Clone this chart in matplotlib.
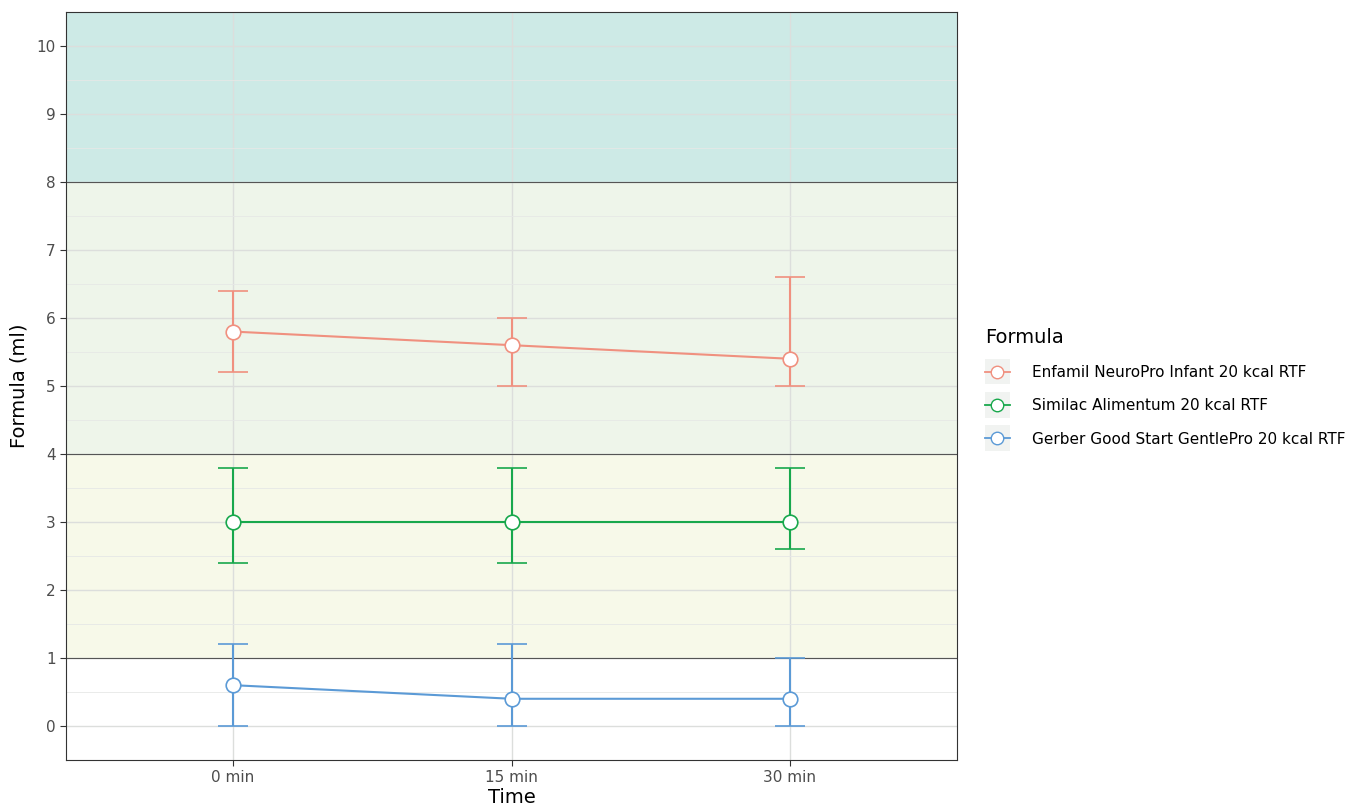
from matplotlib import pyplot as plt
from matplotlib.lines import Line2D
from matplotlib.legend_handler import HandlerLine2D
from matplotlib.patches import Rectangle
import numpy as np

## Data

times = ['0 min', '15 min', '30 min']
formulas = ['Enfamil NeuroPro Infant 20 kcal RTF',
            'Similac Alimentum 20 kcal RTF',
            'Gerber Good Start GentlePro 20 kcal RTF']
enfamil_mid = [5.8, 5.6, 5.4]
enfamil_low = [5.2, 5.0, 5.0]
enfamil_high = [6.4, 6.0, 6.6]
similac_mid = [3.0, 3.0, 3.0]
similac_low = [2.4, 2.4, 2.6]
similac_high = [3.8, 3.8, 3.8]
gerber_mid = [0.6, 0.4, 0.4]
gerber_low = [0.0, 0.0, 0.0]
gerber_high = [1.2, 1.2, 1.0]

band_edges = [1, 4, 8, 10.5]
band_colors = ['#f7f9e9', '#eef5ea', '#cdeae6']
colors = ['#f0907f', '#18a84c', '#5b9ad6']

series = [(enfamil_mid, enfamil_low, enfamil_high),
          (similac_mid, similac_low, similac_high),
          (gerber_mid, gerber_low, gerber_high)]

## legend key with grey box behind it, like ggplot

class KeyHandler(HandlerLine2D):
	def create_artists(self, legend, orig_handle, xdescent, ydescent, width, height, fontsize, trans):
		artists = super().create_artists(legend, orig_handle, xdescent, ydescent, width, height, fontsize, trans)
		size = height * 2.4
		bg = Rectangle((-xdescent + width/2 - size/2, -ydescent + height/2 - size/2), size, size,
			facecolor='#f1f3f1', edgecolor='none', transform=trans)
		return [bg] + artists

## Plot

fig = plt.figure(figsize=(13.51, 8.09), dpi=100)
ax = fig.add_axes([0.0489, 0.0606, 0.6595, 0.9246])

ax.set_xlim(0.4, 3.6)
ax.set_ylim(-0.5, 10.5)

for i in range(3):
	ax.axhspan(band_edges[i], band_edges[i+1], color=band_colors[i], zorder=0, lw=0)
for e in band_edges[:3]:
	ax.axhline(e, color='#555555', lw=0.8, zorder=1)

x = np.arange(1, len(times)+1)
for i in range(3):
	mid, low, high = series[i]
	mid = np.array(mid); low = np.array(low); high = np.array(high)
	ax.errorbar(x, mid, yerr=[mid-low, high-mid], color=colors[i], lw=1.5,
		capsize=10.5, capthick=1.5, marker='o', markersize=10.5,
		markerfacecolor='white', markeredgecolor=colors[i], markeredgewidth=1.2, zorder=3)

ax.set_xticks(x)
ax.set_xticklabels(times)
ax.set_yticks(np.arange(0, 11))
ax.set_yticks(np.arange(-0.5, 10.6, 1.0), minor=True)
ax.grid(which='major', color='#dcdedc', lw=1.0, zorder=0.5)
ax.grid(which='minor', axis='y', color='#e6e8e6', lw=0.6, zorder=0.5)
ax.set_axisbelow(True)
ax.tick_params(axis='both', which='major', labelsize=11, labelcolor='#4d4d4d', color='#333333', length=4)
ax.tick_params(axis='y', which='minor', length=0)
for s in ax.spines.values():
	s.set_color('#333333')
	s.set_linewidth(0.8)

ax.set_xlabel('Time', fontsize=14, labelpad=2)
ax.set_ylabel('Formula (ml)', fontsize=14, labelpad=6)

handles = [Line2D([0], [0], color=c, lw=1.3, marker='o', markersize=9,
	markerfacecolor='white', markeredgecolor=c) for c in colors]
leg = fig.legend(handles, formulas, title='Formula', loc='upper left',
	bbox_to_anchor=(0.719, 0.612), frameon=False, fontsize=11,
	title_fontsize=14, handlelength=1.6, labelspacing=1.2, handletextpad=1.5,
	handler_map={Line2D: KeyHandler()})
leg._legend_box.align = 'left'

fig.savefig('out.png', dpi=100)
